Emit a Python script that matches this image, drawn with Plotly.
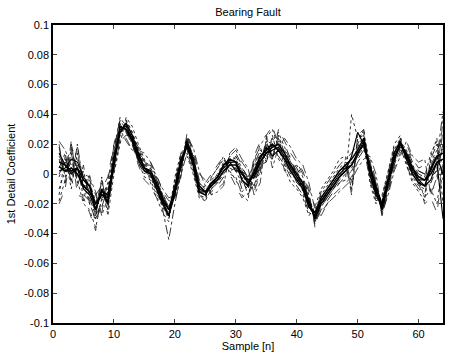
import plotly.graph_objects as go

samples = list(range(1, 65))

# Values in units of 1e-3
s01 = [5, 2, 4, 0, -8, -12, -20, -14, -16, 8, 28, 34, 26, 14, 4, 2,
       -6, -16, -24, -12, 6, 22, 10, -8, -12, -8, -4, 2, 6, 6, 0, -4,
       -2, 8, 14, 18, 20, 14, 6, 0, -6, -18, -30, -20, -14, -8, -2, 2,
       6, 14, 20, 4, -10, -24, -6, 10, 20, 14, 4, -2, -4, 0, 8, 10]
s02 = [8, 6, 2, 4, -4, -8, -24, -10, -20, 6, 32, 30, 22, 10, 2, 0,
       -10, -20, -28, -8, 10, 18, 6, -12, -14, -6, -2, 6, 10, 8, -4, -8,
       2, 12, 16, 20, 16, 10, 2, -4, -10, -22, -26, -16, -10, -4, 2, 6,
       10, 16, 24, 0, -14, -20, -4, 14, 22, 10, 0, -6, -8, 4, 12, 14]
s03 = [18, -2, 14, -6, 2, -16, -28, -4, -22, 14, 36, 30, 20, 8, 0, 4,
       -4, -14, -22, -14, 4, 24, 12, -6, -10, -10, -6, 0, 6, 12, 4, -2,
       -8, 6, 22, 12, 24, 8, 0, -4, -4, -16, -32, -22, -16, -10, -4, 0,
       4, 12, 18, 6, -8, -26, -8, 8, 16, 16, 6, 0, -2, -6, 4, 20]
s04 = [-2, 10, 0, 18, -10, -6, -18, -16, -14, 12, 26, 36, 28, 16, 6, -2,
       -12, -22, -30, -6, 10, 16, 4, -14, -16, -4, 0, 8, 4, 2, -6, -10,
       4, 14, 10, 24, 14, 16, 8, 2, -12, -24, -24, -14, -8, -2, 4, 8,
       -6, 18, 26, -2, -16, -18, -2, 16, 24, 8, -2, -8, -10, 8, 16, 6]
s05 = [12, 4, 20, 2, -14, -18, -32, -20, -12, 4, 24, 28, 20, 12, 6, 6,
       -4, -14, -20, -16, 2, 26, 14, -4, -8, -12, -8, -2, 2, 4, -10, -14,
       -6, 4, 20, 14, 22, 20, 10, 4, -4, -14, -34, -24, -18, -12, -6, -2,
       2, 10, 16, 8, -6, -28, -10, 6, 18, 18, 8, 2, 0, -2, 2, 18]
s06 = [0, 8, -4, 6, -2, -12, -26, -22, -10, 2, 22, 26, 26, 18, 8, 4,
       -8, -24, -44, -20, 0, 14, 2, -14, -18, -10, -2, 4, 12, 10, 2, -2,
       6, 16, 12, 16, 12, 6, -2, -8, -14, -26, -28, -12, -6, 0, 6, 10,
       14, 20, 18, -4, -18, -16, 0, 18, 18, 6, -4, -10, -14, 10, 20, -4]
s07 = [-18, -4, 10, -4, -20, -24, -36, -16, -6, 16, 38, 32, 22, 8, -2, -4,
       -14, -18, -24, -4, 12, 22, 6, -10, -8, -2, 4, 10, 2, -4, -12, -8,
       8, 20, 24, 30, 18, 6, 2, 6, -2, -14, -30, -18, -14, -8, -2, 6,
       -10, 24, 28, 2, -12, -22, -6, 10, 22, 12, 2, -4, -16, -10, -20, 8]
s08 = [10, 0, 8, -2, -4, -4, -14, -8, -24, 6, 30, 34, 24, 10, 2, -2,
       -6, -16, -22, -8, 8, 20, 10, -8, -14, -8, -4, 2, 10, 14, 6, -4,
       -4, 6, 8, 20, 16, 12, 12, -2, -6, -20, -26, -20, -12, -4, 2, 4,
       10, 14, 20, 6, -10, -22, -4, 14, 20, 10, 2, 2, 0, 6, 14, 28]
s09 = [4, 14, -6, 20, -8, -8, -20, -6, -20, 10, 28, 32, 22, 12, 2, 2,
       -10, -20, -26, -10, 6, 18, 8, -10, -12, -6, -6, 2, 6, 4, -2, -14,
       -2, 4, 16, 10, 26, 14, 4, -6, -10, -18, -26, -16, -10, -6, 0, 2,
       8, 12, 20, 2, -12, -24, -6, 12, 18, 14, 4, -6, -4, 4, 10, 42]
s10 = [14, 6, 0, 4, -10, -14, -24, -12, -14, 10, 32, 30, 24, 12, 4, 0,
       -6, -18, -28, -14, 8, 20, 8, -12, -12, -8, -2, 6, 8, 2, 2, -6,
       0, 10, 18, 12, 16, 10, 6, -2, -8, -22, -28, -18, -12, -8, -2, 2,
       12, 28, 20, 6, -8, -20, -6, 10, 20, 12, 4, -4, -4, 2, 12, 0]
s11 = [-10, 2, 16, 0, -6, -20, -30, -18, -8, 8, 26, 36, 28, 16, 8, 6,
       -2, -16, -24, -8, 4, 22, 12, -6, -10, -6, 0, 4, 6, 10, 0, -8,
       -10, 2, 20, 22, 28, 18, 8, 2, -6, -18, -32, -20, -16, -10, -6, -4,
       40, 24, 26, 8, -6, -24, -8, 8, 22, 16, 6, -2, -2, 14, 22, 16]
s12 = [2, 4, 10, 8, -2, -8, -20, -14, -18, 12, 30, 32, 24, 14, 4, 2,
       -8, -18, -24, -10, 8, 20, 8, -10, -12, -6, -2, 4, 8, 8, 0, -6,
       0, 8, 14, 16, 18, 12, 4, -2, -8, -20, -28, -18, -12, -6, 0, 4,
       6, 14, 22, 4, -12, -22, -4, 12, 20, 12, 2, -4, -8, -4, 8, -30]
s13 = [20, -6, 22, -8, 6, -20, -14, -26, -4, 18, 34, 24, 16, 14, 10, 8,
       0, -12, -18, -18, -2, 28, 16, 0, -4, -14, -10, -6, 12, 16, 8, 2,
       -12, 0, 26, 8, 30, 22, 14, 8, 2, -10, -22, -26, -20, -14, -10, -6,
       -2, 8, 14, 10, -4, -28, -12, 4, 14, 20, 10, 4, 6, -12, -6, 30]
s14 = [-14, 12, -10, 14, -18, 0, -30, -2, -28, 0, 20, 38, 32, 20, 10, -6,
       -16, -26, -32, -2, 14, 12, 0, -16, -18, -2, 4, 12, 0, -2, -14, -18,
       10, 18, 8, 26, 10, 4, -6, -10, -16, -28, -22, -10, -4, 2, 10, 12,
       -12, 20, 30, -6, -20, -14, 2, 20, 26, 6, -6, -12, -18, 12, 24, -20]
s15 = [22, 16, 6, 10, 0, -2, -12, -28, -16, 20, 30, 22, 16, 16, 14, 8,
       -2, -10, -16, -14, 0, 24, 18, 2, -8, -14, -12, -8, 14, 18, 10, 4,
       -14, -6, 24, 4, 18, 24, 18, 10, 6, -6, -24, -28, -20, -16, -12, -8,
       -4, 4, 10, 12, 0, -26, -14, 2, 12, 22, 12, 8, 10, -14, -2, 36]
s16 = [-20, -10, 18, -14, -16, -26, -38, -10, -2, 20, 36, 28, 20, 6, -4, -8,
       -16, -20, -30, -6, 14, 24, 4, -12, -6, 0, 6, 12, 0, -8, -16, -12,
       12, 22, 26, 32, 20, 2, -2, 8, 0, -12, -36, -20, -16, -10, -4, 8,
       -14, 26, 30, 0, -16, -20, -4, 8, 24, 10, 0, -6, -20, -16, -26, 4]

series = [s13, s14, s15, s16, s03, s04, s05, s06, s07, s08, s09, s11,
          s10, s12, s01, s02]
styles = [("dash", 0.8), ("dot", 0.9), ("dashdot", 0.8), ("dash", 0.8),
          ("dashdot", 0.9), ("dot", 0.9), ("dash", 0.9), ("dashdot", 0.9),
          ("dot", 0.9), ("dash", 0.9), ("dashdot", 0.9), ("dot", 0.9),
          ("solid", 1.2), ("solid", 1.1), ("solid", 1.6), ("solid", 1.6)]

x_ticks = [0, 10, 20, 30, 40, 50, 60]
y_ticks = [0.1, 0.08, 0.06, 0.04, 0.02, 0, -0.02, -0.04, -0.06, -0.08, -0.1]
y_tick_text = ["0.1", "0.08", "0.06", "0.04", "0.02", "0", "-0.02", "-0.04",
               "-0.06", "-0.08", "-0.1"]

fig = go.Figure()
for s, (dash, w) in zip(series, styles):
    col = "black" if dash == "solid" else "#1a1a1a"
    fig.add_trace(go.Scatter(
        x=samples, y=[v / 1000 for v in s], mode="lines",
        line=dict(color=col, width=w, dash=dash),
        showlegend=False, hoverinfo="skip"))

font = dict(family="Liberation Sans, Arial, sans-serif", size=11, color="black")
fig.update_layout(
    width=451, height=357,
    margin=dict(l=53, r=6, t=25, b=33),
    paper_bgcolor="white", plot_bgcolor="white",
    font=font,
    title=dict(text="Bearing Fault", x=0.5, xref="paper", y=0.965,
               yref="container", yanchor="middle", xanchor="center",
               font=dict(family="Liberation Sans, Arial, sans-serif", size=11)),
)
fig.update_xaxes(
    range=[0, 64], tickvals=x_ticks, ticks="inside", ticklen=4,
    showline=True, linecolor="black", linewidth=1.5, mirror="ticks",
    showgrid=False, zeroline=False,
    title=dict(text="Sample [n]", standoff=3, font=dict(size=11)),
)
fig.update_yaxes(
    range=[-0.1, 0.1], tickvals=y_ticks, ticktext=y_tick_text,
    ticks="inside", ticklen=4,
    showline=True, linecolor="black", linewidth=1.5, mirror="ticks",
    showgrid=False, zeroline=False,
    title=dict(text="1st Detail Coefficient", standoff=6, font=dict(size=11)),
)

fig.write_html("out.html")
